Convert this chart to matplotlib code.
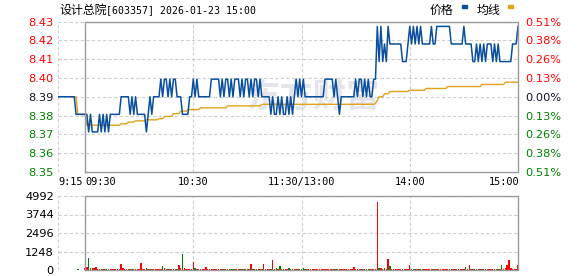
import matplotlib.pyplot as plt
import numpy as np
from matplotlib.patches import Rectangle

# ==========================================
# 1. 数据
# ==========================================

W, H = 578, 276

stock_name = "设计总院"
stock_info = "[603357] 2026-01-23 15:00"
pre_close = 8.39

# 集合竞价 9:15-9:29（相对 9:30 的分钟）
pre_minutes = [-15, -14, -13, -12, -11, -10, -9, -8, -7, -6, -5, -4, -3, -2, -1]
pre_price = [8.39, 8.39, 8.39, 8.39, 8.39, 8.39, 8.39, 8.39, 8.39, 8.39,
             8.38, 8.38, 8.38, 8.38, 8.38]
pre_avg = [None, None, None, None, None, None, None, None, 8.39, 8.39,
           8.39, 8.38, 8.38, 8.38, 8.38]
pre_volume_minute = -4
pre_volume = 70

# 9:30-15:00 每分钟价格，相对昨收的变动（单位：分）
price_ticks = [
    -1, -1, -2, -1, -2, -2, -2, -2, -1, -2, -1, -2, -1, -2, -1, -1, -1, -1, -1, -1,
    0, 0, 0, 0, 0, -1, 0, -1, 0, -1, -1, -1, -1, -1, -2, -1, 0, -1, 0, 0,
    0, 0, 1, 0, 1, 1, 0, 1, 0, 1, 1, 0, 0, 0, -1, -1, -1, -1, 0, 0,
    1, 0, 1, 0, 0, 0, 0, 0, 0, 0, 1, 1, 1, 1, 1, 0, 1, 0, 1, 1,
    0, 1, 0, 1, 1, 1, 0, 1, 0, 1, 1, 0, 1, 0, 1, 1, 0, 1, 0, 0,
    0, 0, 0, -1, 0, -1, -1, 0, -1, 0, -1, -1, 0, -1, 0, -1, 0, 1, 0, 1,
    0, 1, 0, 0, 0, 0, 0, 0, 0, 0, 0, 0, 0, 1, 1, 1, 1, 1, 0, 1,
    0, -1, 0, 0, 0, 0, 0, 0, 0, 0, 1, 0, 1, 1, 0, 1, 0, 1, 0, 0,
    1, 1, 4, 2, 4, 2, 3, 2, 4, 3, 3, 3, 3, 3, 3, 3, 2, 2, 2, 3,
    4, 3, 4, 3, 4, 3, 4, 3, 3, 3, 3, 3, 4, 3, 3, 4, 4, 4, 4, 4,
    4, 4, 4, 3, 3, 3, 3, 3, 3, 3, 4, 3, 3, 3, 3, 2, 2, 3, 2, 3,
    2, 3, 2, 3, 3, 3, 2, 3, 2, 3, 2, 2, 2, 2, 2, 2, 2, 3, 3, 3, 4,
]

# 均价线：分段水平值 + 持续分钟数
avg_levels = [8.3800, 8.3738, 8.3746, 8.3756, 8.3763, 8.3769, 8.3775, 8.3788,
              8.3804, 8.3818, 8.3827, 8.3837, 8.3848, 8.3857, 8.3862, 8.3880,
              8.3900, 8.3917, 8.3930, 8.3937, 8.3947, 8.3958, 8.3970, 8.3983]
avg_runs = [1, 19, 4, 4, 6, 7, 3, 5,
            4, 4, 7, 15, 19, 63, 1, 1,
            3, 3, 11, 9, 12, 19, 13, 8]

# 每分钟成交量（手）
volume = [
    120, 230, 840, 110, 160, 140, 170, 90, 80, 70, 90, 80, 70, 90, 60, 70, 80, 60, 70, 100,
    430, 120, 80, 70, 60, 90, 80, 70, 60, 80, 70, 500, 90, 80, 120, 90, 100, 80, 70, 60,
    80, 70, 90, 295, 110, 80, 70, 90, 60, 70, 80, 90, 360, 120, 1110, 150, 90, 80, 70, 90,
    570, 110, 90, 80, 70, 90, 80, 180, 70, 60, 80, 70, 60, 80, 90, 70, 60, 80, 70, 90,
    80, 100, 70, 80, 60, 90, 70, 80, 60, 70, 80, 90, 390, 80, 70, 60, 80, 90, 70, 390,
    80, 70, 90, 80, 700, 90, 110, 80, 250, 70, 60, 80, 90, 160, 70, 80, 60, 70, 90, 80,
    70, 160, 80, 70, 90, 80, 60, 100, 80, 70, 60, 80, 70, 90, 80, 70, 60, 80, 90, 70,
    80, 70, 60, 90, 80, 70, 60, 80, 70, 180, 80, 70, 90, 60, 80, 70, 90, 80, 60, 70,
    80, 100, 4590, 110, 120, 90, 110, 80, 770, 250, 90, 80, 70, 60, 80, 70, 90, 80, 60, 70,
    320, 80, 70, 90, 60, 80, 70, 60, 80, 90, 70, 60, 80, 70, 90, 80, 60, 70, 80, 60,
    70, 80, 60, 90, 80, 70, 60, 80, 70, 90, 60, 180, 80, 320, 70, 60, 80, 90, 70, 60,
    80, 70, 60, 90, 80, 70, 60, 80, 70, 60, 90, 320, 80, 110, 320, 660, 160, 70, 80, 60,
    320,
]
extra_green_minutes = [81, 106, 121, 231]

price_tick_labels = ["8.35", "8.36", "8.37", "8.38", "8.39", "8.40", "8.41", "8.42", "8.43"]
pct_tick_labels = ["0.51%", "0.38%", "0.26%", "0.13%", "0.00%",
                   "0.13%", "0.26%", "0.38%", "0.51%"]
volume_ticks = [0, 1248, 2496, 3744, 4992]
time_labels = ["9:15", "09:30", "10:30", "11:30/13:00", "14:00", "15:00"]
time_positions = [-15, 0, 60, 120, 180, 241]
time_aligns = ["left", "left", "center", "center", "center", "right"]

# ==========================================
# 2. 整理数据
# ==========================================

minutes = np.arange(len(price_ticks))
price = pre_close + np.array(price_ticks) / 100
avg = np.repeat(avg_levels, avg_runs)

all_minutes = np.concatenate([pre_minutes, minutes])
all_price = np.concatenate([pre_price, price])
all_avg = np.concatenate([[np.nan if v is None else v for v in pre_avg], avg])

down = np.zeros(len(price), dtype=bool)
down[1:] = np.diff(price_ticks) < 0
down[extra_green_minutes] = True
bar_colors = np.where(down, "#008000", "#ff0000")

span = pre_close * 0.0051
ylo, yhi = pre_close - span, pre_close + span
price_tick_pos = pre_close + span * np.arange(-4, 5) / 4

RED = "#ff0000"
GREEN = "#008000"
BORDER = "#9a9a9a"
GRID = "#cfcfcf"
BLUE = "#0a4f9e"
GOLD = "#e0a21c"

plt.rcParams["font.family"] = ["DejaVu Sans", "Noto Sans CJK SC"]


def box(left, top, right, bottom):
    return [left / W, 1 - bottom / H, (right - left) / W, (bottom - top) / H]


def color_labels(axis_obj):
    for lab, y in zip(axis_obj.get_yticklabels(), price_tick_pos):
        if y > pre_close + 1e-6:
            lab.set_color(RED)
        elif y < pre_close - 1e-6:
            lab.set_color(GREEN)
        else:
            lab.set_color("#101030")


fig = plt.figure(figsize=(W / 100, H / 100), dpi=100)
fig.patch.set_facecolor("white")

# ==========================================
# 3. 分时价格图
# ==========================================

ax = fig.add_axes(box(58, 21.5, 518, 172))
ax.set_xlim(-15, 240)
ax.set_ylim(ylo, yhi)
for s in ax.spines.values():
    s.set_visible(False)

for y in price_tick_pos:
    ax.axhline(y, color=GRID, lw=0.8, ls=(0, (3, 2)), zorder=1)
for x in [-15, 60, 120, 180]:
    ax.axvline(x, color=GRID, lw=0.8, ls=(0, (3, 2)), zorder=1)

ax.plot([0, 0, 240, 240, 0], [ylo, yhi, yhi, ylo, ylo],
        color=BORDER, lw=1.0, clip_on=False, zorder=5)

# 水印
ax.text(126, pre_close - 0.0005, "东方财富", fontsize=24, fontweight="bold",
        color="#e4e4ec", ha="center", va="center",
        family=["Noto Sans CJK SC"], zorder=0)

ax.plot(all_minutes, all_avg, color=GOLD, lw=1.0, zorder=3)
ax.plot(all_minutes, all_price, color=BLUE, lw=1.1, zorder=4)

ax.set_yticks(price_tick_pos)
ax.set_yticklabels(price_tick_labels)
ax.tick_params(axis="y", length=0, pad=3, labelsize=8.2)
color_labels(ax)
ax.set_xticks([])

ax2 = ax.twinx()
ax2.set_ylim(ylo, yhi)
for s in ax2.spines.values():
    s.set_visible(False)
ax2.set_yticks(price_tick_pos)
ax2.set_yticklabels(pct_tick_labels)
ax2.tick_params(axis="y", length=0, pad=5, labelsize=8.2)
color_labels(ax2)

for pos, lab, ha in zip(time_positions, time_labels, time_aligns):
    ax.text(pos, -0.035, lab, transform=ax.get_xaxis_transform(),
            ha=ha, va="top", fontsize=7.4, family=["DejaVu Sans Mono"])

# ==========================================
# 4. 成交量图
# ==========================================

axv = fig.add_axes(box(58, 196, 518, 270))
axv.set_xlim(-15, 240)
axv.set_ylim(0, volume_ticks[-1])
for s in axv.spines.values():
    s.set_visible(False)

for y in volume_ticks:
    axv.axhline(y, color=GRID, lw=0.8, ls=(0, (3, 2)), zorder=1)
for x in [-15, 60, 120, 180]:
    axv.axvline(x, color=GRID, lw=0.8, ls=(0, (3, 2)), zorder=1)

axv.bar(minutes, volume, width=0.8, color=bar_colors, linewidth=0,
        antialiased=False, zorder=3)
axv.bar([pre_volume_minute], [pre_volume], width=0.8, color=GREEN, linewidth=0,
        antialiased=False, zorder=3)

axv.plot([0, 0, 240, 240, 0], [0, volume_ticks[-1], volume_ticks[-1], 0, 0],
         color=BORDER, lw=1.0, clip_on=False, zorder=5)

axv.set_yticks(volume_ticks)
axv.set_yticklabels([str(v) for v in volume_ticks])
axv.tick_params(axis="y", length=0, pad=3, labelsize=8.2)
axv.set_xticks([])

# ==========================================
# 5. 标题和图例
# ==========================================

fig.text(59 / W, 1 - 10 / H, stock_name, fontsize=8.6, va="center", ha="left",
         family=["Noto Sans CJK SC"])
fig.text(106 / W, 1 - 10 / H, stock_info, fontsize=7.1, va="center", ha="left",
         family=["DejaVu Sans Mono"])

fig.text(430 / W, 1 - 10 / H, "价格", fontsize=8.6, va="center", ha="left",
         family=["Noto Sans CJK SC"])
fig.text(477 / W, 1 - 10 / H, "均线", fontsize=8.6, va="center", ha="left",
         family=["Noto Sans CJK SC"])
fig.add_artist(Rectangle((462 / W, 1 - 8 / H), 5 / W, 3 / H,
                         transform=fig.transFigure, color=BLUE))
fig.add_artist(Rectangle((508 / W, 1 - 8 / H), 5 / W, 3 / H,
                         transform=fig.transFigure, color=GOLD))

fig.savefig("out.png", dpi=100, facecolor="white")
